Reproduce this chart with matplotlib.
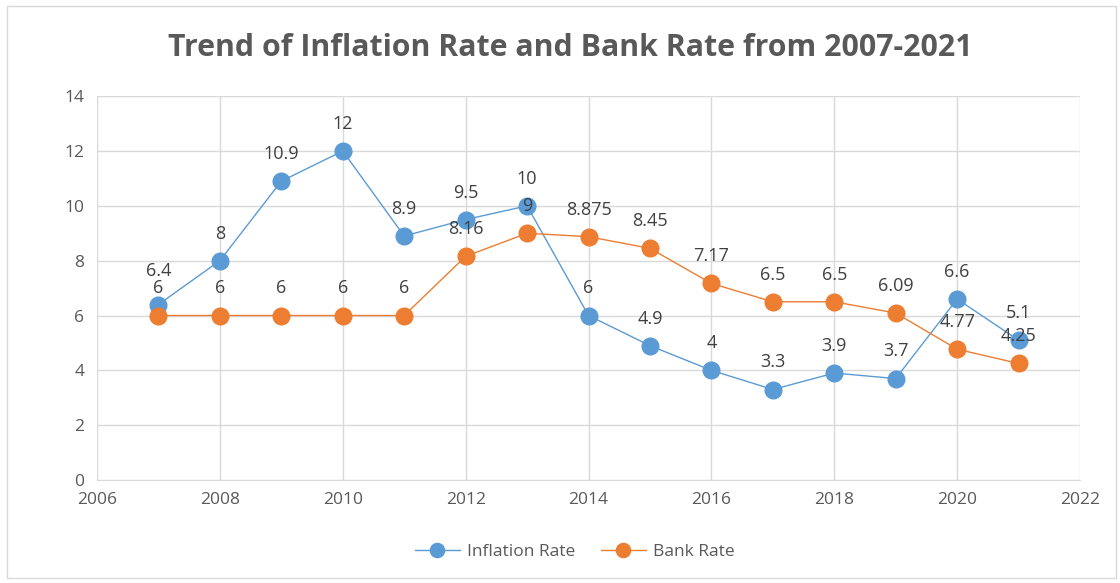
import matplotlib.pyplot as plt
from matplotlib.patches import Rectangle

years = [2007, 2008, 2009, 2010, 2011, 2012, 2013, 2014, 2015, 2016, 2017, 2018, 2019, 2020, 2021]
inflation = [6.4, 8, 10.9, 12, 8.9, 9.5, 10, 6, 4.9, 4, 3.3, 3.9, 3.7, 6.6, 5.1]
bank_rate = [6, 6, 6, 6, 6, 8.16, 9, 8.875, 8.45, 7.17, 6.5, 6.5, 6.09, 4.77, 4.25]

blue = '#5B9BD5'
orange = '#ED7D31'
grey_text = '#595959'

plt.rcParams['font.family'] = ['Open Sans', 'DejaVu Sans']

fig = plt.figure(figsize=(11.2, 5.83), dpi=100)
ax = fig.add_axes([0.0866, 0.1767, 0.8777, 0.6583])

ax.plot(years, inflation, color=blue, lw=1, marker='o', ms=12,
        markeredgecolor=blue, label='Inflation Rate', zorder=3)
ax.plot(years, bank_rate, color=orange, lw=1, marker='o', ms=12,
        markeredgecolor=orange, label='Bank Rate', zorder=3)

# value labels above each point
for x, v in zip(years, inflation):
    dy = 18 if x == 2007 else 13
    ax.annotate(f'{v:g}', (x, v), xytext=(0, dy), textcoords='offset points',
                ha='center', va='bottom', fontsize=13, color='#404040', zorder=4)
for x, v in zip(years, bank_rate):
    ax.annotate(f'{v:g}', (x, v), xytext=(0, 13), textcoords='offset points',
                ha='center', va='bottom', fontsize=13, color='#404040', zorder=4)

ax.set_xlim(2006, 2022)
ax.set_ylim(0, 14)
ax.set_xticks(range(2006, 2023, 2))
ax.set_yticks(range(0, 15, 2))
ax.grid(True, color='#d9d9d9', lw=1)
ax.set_axisbelow(True)
for s in ['top', 'right', 'left']:
    ax.spines[s].set_visible(False)
ax.spines['bottom'].set_color('#d9d9d9')
ax.tick_params(length=0, labelsize=12.5, colors=grey_text, pad=9)

fig.text(0.509, 0.918, 'Trend of Inflation Rate and Bank Rate from 2007-2021',
         ha='center', va='center', fontsize=21.8, fontweight='bold', color=grey_text)

fig.legend(loc='center', bbox_to_anchor=(0.513, 0.053), ncol=2, frameon=False,
           fontsize=12.5, labelcolor=grey_text, handlelength=2.6, handletextpad=0.4,
           columnspacing=1.5, markerscale=0.85)

# outer chart border
fig.patches.append(Rectangle((0.006, 0.008), 0.99, 0.982, transform=fig.transFigure,
                             fill=False, edgecolor='#d9d9d9', lw=1))

fig.savefig('out.png', dpi=100)
